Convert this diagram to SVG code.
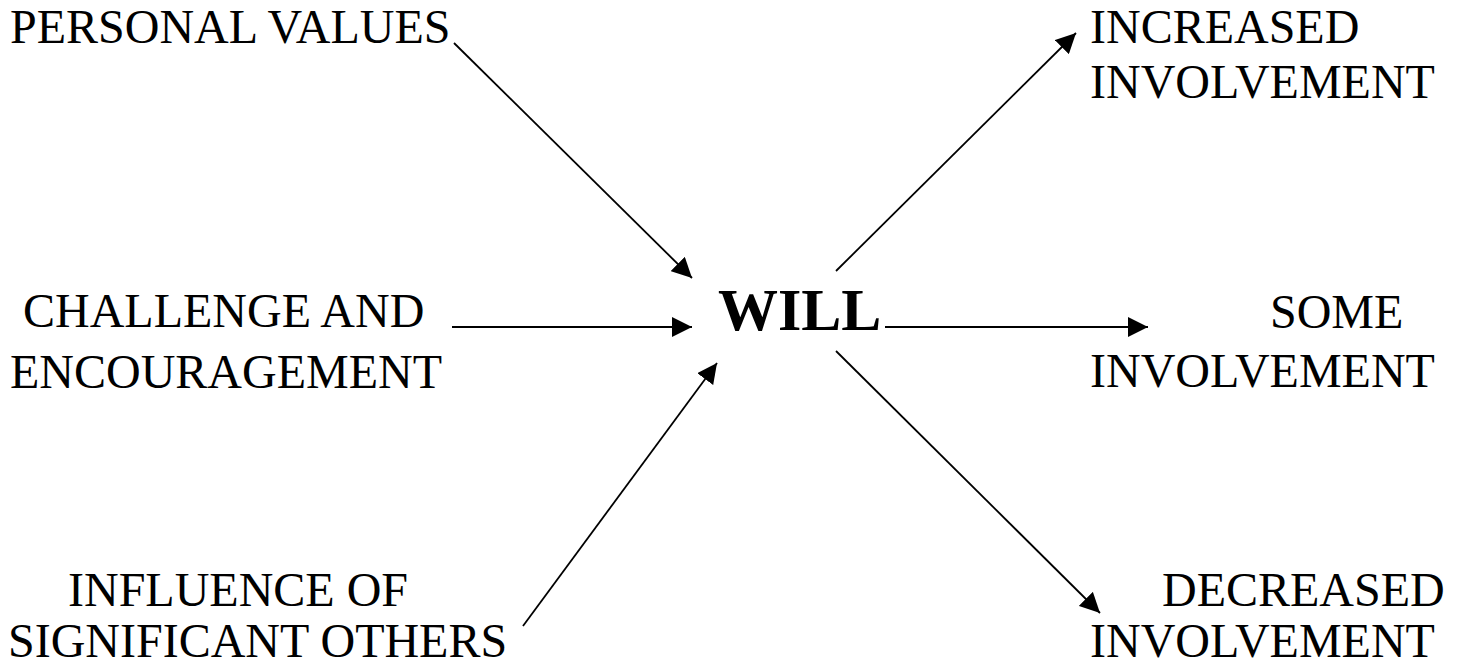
<svg xmlns="http://www.w3.org/2000/svg" width="1460" height="668" viewBox="0 0 1460 668">
<defs>
<style>
.t{font-family:"Liberation Serif","Times New Roman",serif;font-size:48px;fill:#000}
.w{font-family:"Liberation Serif","Times New Roman",serif;font-size:60px;font-weight:bold;fill:#000}
.c{stroke:#000;stroke-width:1.8;fill:none;marker-end:url(#ah)}
</style>
<marker id="ah" viewBox="0 0 20 20" refX="20" refY="10" markerWidth="20" markerHeight="20" markerUnits="userSpaceOnUse" orient="auto">
<path d="M0,0 L20,10 L0,20 Z" fill="#000"/>
</marker>
</defs>
<rect width="1460" height="668" fill="#fff"/>
<g id="connectors">
<line class="c" x1="454" y1="43" x2="692" y2="278"/>
<line class="c" x1="452" y1="327" x2="692" y2="327"/>
<line class="c" x1="523" y1="626" x2="717" y2="363"/>
<line class="c" x1="836" y1="271" x2="1076" y2="33"/>
<line class="c" x1="885" y1="327" x2="1148" y2="327"/>
<line class="c" x1="836" y1="351" x2="1100" y2="613"/>
</g>
<g id="personal-values"><text class="t" x="10" y="43">PERSONAL VALUES</text></g>
<g id="challenge"><text class="t" x="23" y="327">CHALLENGE AND</text><text class="t" x="10" y="388">ENCOURAGEMENT</text></g>
<g id="influence"><text class="t" x="68" y="606">INFLUENCE OF</text><text class="t" x="8" y="657">SIGNIFICANT OTHERS</text></g>
<g id="will"><text class="w" x="718" y="330">WILL</text></g>
<g id="increased"><text class="t" x="1090" y="43">INCREASED</text><text class="t" x="1090" y="98">INVOLVEMENT</text></g>
<g id="some"><text class="t" x="1270" y="328">SOME</text><text class="t" x="1090" y="387">INVOLVEMENT</text></g>
<g id="decreased"><text class="t" x="1162" y="606">DECREASED</text><text class="t" x="1090" y="657">INVOLVEMENT</text></g>
</svg>
